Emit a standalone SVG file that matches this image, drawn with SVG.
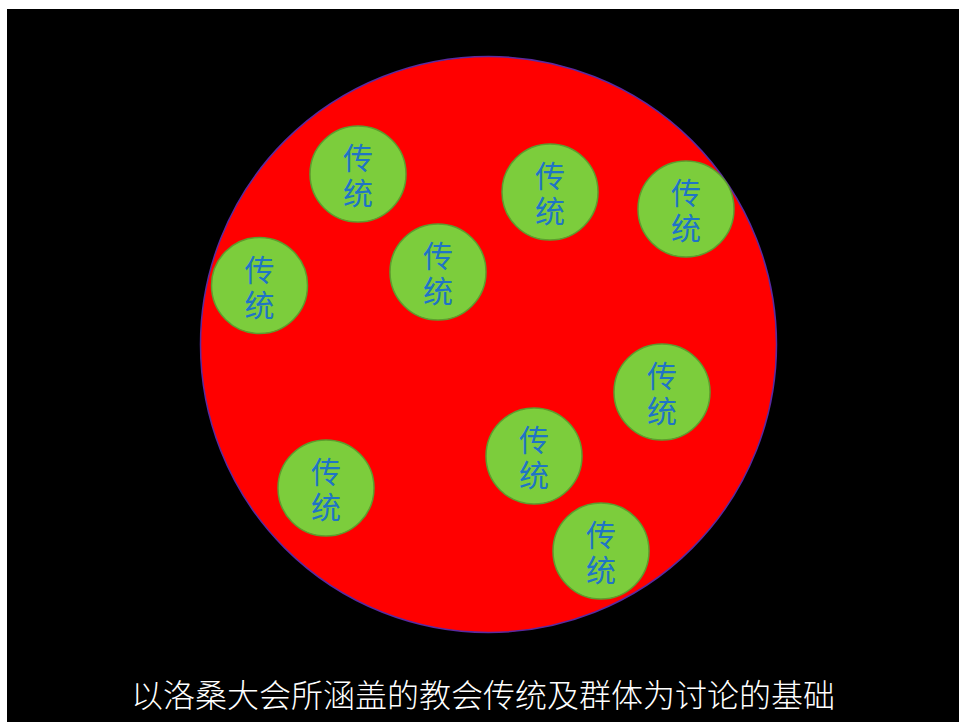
<svg xmlns="http://www.w3.org/2000/svg" width="959" height="722" viewBox="0 0 959 722">
<style>
.t{fill:#7ccd3c;stroke:#5c9e2e;stroke-width:1.5}
.l{font-family:"Noto Sans CJK SC","Noto Sans",sans-serif;font-size:30px;font-weight:400;fill:#1f74c6;text-anchor:middle}
.cap{font-family:"Noto Sans CJK SC","Noto Sans",sans-serif;font-size:32px;font-weight:300;fill:#ffffff;text-anchor:middle}
</style>
<rect width="959" height="722" fill="#ffffff"/>
<rect x="7" y="9" width="952" height="713" fill="#000000"/>
<g id="church">
<circle cx="488.5" cy="344.5" r="288" fill="#ff0000" stroke="#5a2aa0" stroke-width="1.5"/>
</g>
<g id="t1"><circle class="t" cx="358" cy="174" r="48"/><text class="l" x="358" y="169">传</text><text class="l" x="358" y="204">统</text></g>
<g id="t2"><circle class="t" cx="550" cy="192" r="48"/><text class="l" x="550" y="187">传</text><text class="l" x="550" y="222">统</text></g>
<g id="t3"><circle class="t" cx="686" cy="209" r="48"/><text class="l" x="686" y="204">传</text><text class="l" x="686" y="239">统</text></g>
<g id="t4"><circle class="t" cx="259.5" cy="285.5" r="48"/><text class="l" x="259.5" y="280.5">传</text><text class="l" x="259.5" y="315.5">统</text></g>
<g id="t5"><circle class="t" cx="438" cy="272" r="48"/><text class="l" x="438" y="267">传</text><text class="l" x="438" y="302">统</text></g>
<g id="t6"><circle class="t" cx="662" cy="392" r="48"/><text class="l" x="662" y="387">传</text><text class="l" x="662" y="422">统</text></g>
<g id="t7"><circle class="t" cx="534" cy="456" r="48"/><text class="l" x="534" y="451">传</text><text class="l" x="534" y="486">统</text></g>
<g id="t8"><circle class="t" cx="326" cy="488" r="48"/><text class="l" x="326" y="483">传</text><text class="l" x="326" y="518">统</text></g>
<g id="t9"><circle class="t" cx="601" cy="551" r="48"/><text class="l" x="601" y="546">传</text><text class="l" x="601" y="581">统</text></g>
<g id="connectors"/>
<text class="cap" x="483" y="707">以洛桑大会所涵盖的教会传统及群体为讨论的基础</text>
</svg>
